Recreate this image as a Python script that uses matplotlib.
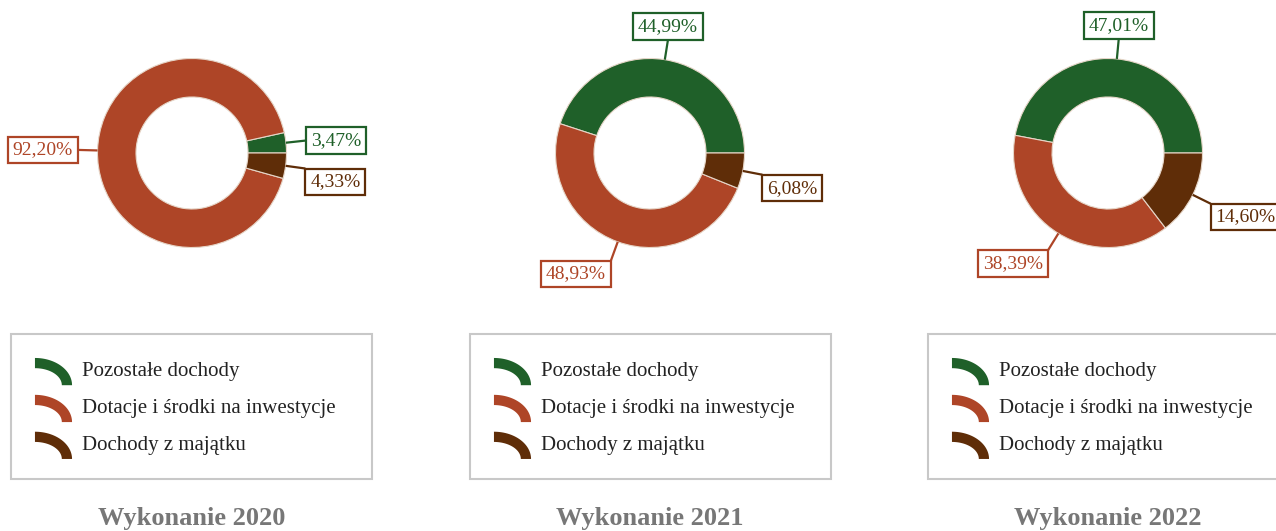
import numpy as np
import matplotlib
matplotlib.use("Agg")
import matplotlib.pyplot as plt
from matplotlib.path import Path
from matplotlib.patches import PathPatch
from matplotlib.legend_handler import HandlerPatch

plt.rcParams['font.family'] = ['Liberation Serif', 'DejaVu Serif']

# data
categories = ["Pozostałe dochody", "Dotacje i środki na inwestycje", "Dochody z majątku"]
colors = ["#1f6029", "#ae4527", "#5f2d08"]
years = ["2020", "2021", "2022"]
shares_2020 = [3.47, 92.20, 4.33]
shares_2021 = [44.99, 48.93, 6.08]
shares_2022 = [47.01, 38.39, 14.60]
all_shares = [shares_2020, shares_2021, shares_2022]

W, H = 1276, 531
DPI = 100
fig = plt.figure(figsize=(W / DPI, H / DPI), dpi=DPI)
ax = fig.add_axes([0, 0, 1, 1])

# layout (pixels, y measured from top)
centers_x = [192, 650, 1108]
center_y = 153
radius = 94.5
ring = 38.5
legend_x = [11, 470, 928]
legend_top = 334
legend_w = 361
title_y = 518

label_fs = 14
pad_frac = 0.25
pad_px = pad_frac * label_fs * DPI / 72


def fy(y):
    """pixel row from top -> data y"""
    return H - y


class ArcHandler(HandlerPatch):
    def create_artists(self, legend, orig_handle, xdescent, ydescent,
                       width, height, fontsize, trans):
        # quarter ring, like a slice of the donut
        t = np.linspace(np.pi / 2, 0, 30)
        a, b = width, height * 1.2
        th = 0.45 * height
        outer = np.column_stack([a * np.cos(t), b * np.sin(t)])
        inner = np.column_stack([(a - th) * np.cos(t[::-1]), (b - th) * np.sin(t[::-1])])
        pts = np.vstack([outer, inner, outer[:1]])
        pts[:, 0] += -xdescent
        pts[:, 1] += -ydescent - 0.2 * height
        p = PathPatch(Path(pts, closed=True), facecolor=orig_handle.get_facecolor(),
                      edgecolor="none", transform=trans)
        return [p]


for i, shares in enumerate(all_shares):
    cx, cy = centers_x[i], fy(center_y)
    wedges, _ = ax.pie(shares, colors=colors, startangle=0, counterclock=True,
                       radius=radius, center=(cx, cy), normalize=True,
                       wedgeprops=dict(width=ring, edgecolor="#e6d6c8", linewidth=0.8))

    # labels with leader lines
    start = 0.0
    for v, c in zip(shares, colors):
        mid = np.deg2rad(start + v * 3.6 / 2)
        start += v * 3.6
        cs, sn = np.cos(mid), np.sin(mid)
        x0, y0 = cx + radius * cs, cy + radius * sn
        x1, y1 = cx + (radius + 20) * cs, cy + (radius + 20) * sn
        ax.plot([x0, x1], [y0, y1], color=c, lw=1.6, solid_capstyle="butt")
        if cs > 0.3:
            ha, tx = "left", x1 + pad_px
        elif cs < -0.3:
            ha, tx = "right", x1 - pad_px
        else:
            ha, tx = "center", x1
        if sn > 0.12:
            va, ty = "bottom", y1 + pad_px
        elif sn < -0.12:
            va, ty = "top", y1 - pad_px
        else:
            va, ty = "center", y1
        txt = f"{v:.2f}".replace(".", ",") + "%"
        ax.text(tx, ty, txt, ha=ha, va=va, fontsize=label_fs, color=c,
                bbox=dict(boxstyle=f"square,pad={pad_frac}", facecolor="white",
                          edgecolor=c, linewidth=1.6))

    leg = fig.legend(wedges, categories, handler_map={type(wedges[0]): ArcHandler()},
                     loc="upper left",
                     bbox_to_anchor=(legend_x[i] / W, 1 - legend_top / H, legend_w / W, 0),
                     mode="expand", borderaxespad=0, fontsize=15,
                     handlelength=1.78, handleheight=1.3, handletextpad=0.48,
                     labelspacing=0.65, borderpad=1.15, fancybox=False,
                     frameon=True, edgecolor="#c8c8c8", framealpha=1)
    leg.get_frame().set_linewidth(1.5)
    leg.get_frame().set_facecolor("white")
    for t in leg.get_texts():
        t.set_color("#222222")

    ax.text(cx, fy(title_y), "Wykonanie " + years[i], ha="center", va="center",
            fontsize=19, fontweight="bold", color="#777777")

ax.set_xlim(0, W)
ax.set_ylim(0, H)
ax.set_aspect("equal")
ax.axis("off")

fig.savefig("out.png", dpi=DPI)
